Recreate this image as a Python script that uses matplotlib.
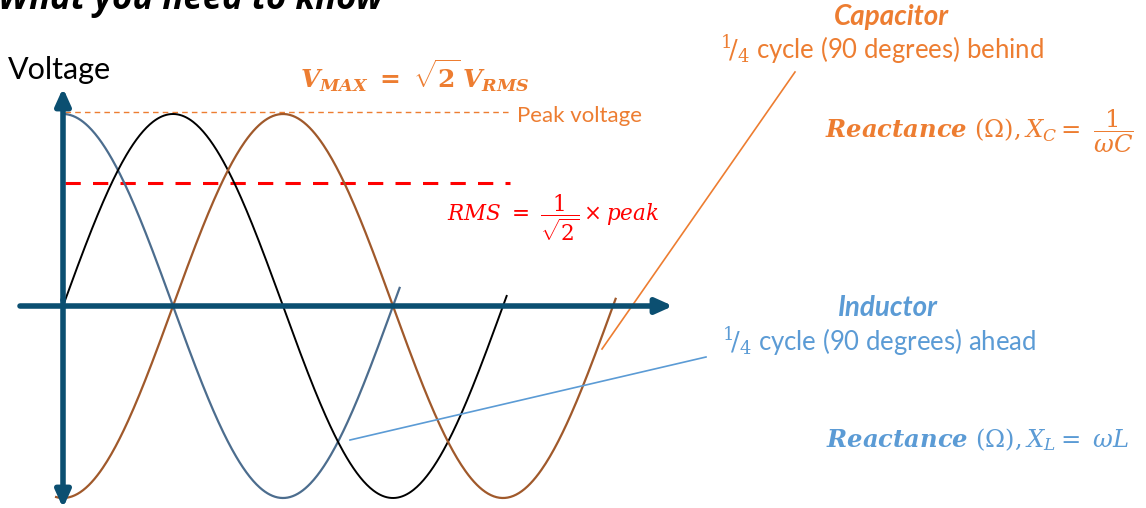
import numpy as np
import matplotlib.pyplot as plt

plt.rcParams['mathtext.fontset'] = 'custom'
plt.rcParams['mathtext.rm'] = 'DejaVu Serif'
plt.rcParams['mathtext.it'] = 'DejaVu Serif:italic'
plt.rcParams['mathtext.bf'] = 'DejaVu Serif:bold'
plt.rcParams['mathtext.bfit'] = 'DejaVu Serif:italic:bold'

# wave layout (pixel units of the slide)
origin_x = 63
baseline_y = 306
period = 440
amplitude = 192

# the three waves: phase in degrees, where each one starts and stops
wave_names = ['inductor', 'supply', 'capacitor']
wave_phase = [90, 0, -90]
wave_start = [63, 63, 55]
wave_end = [400, 507, 616]
wave_colors = ['#4C6D8E', 'black', '#A0592B']
wave_widths = [1.6, 1.4, 1.6]

peak_y = 112
rms_y = 183
dash_end = 510

orange = '#ED7D31'
blue = '#5B9BD5'
axis_col = '#0B4F71'

fig = plt.figure(figsize=(11.46, 5.08), dpi=100)
ax = fig.add_axes([0, 0, 1, 1])
ax.set_xlim(0, 1146)
ax.set_ylim(508, 0)
ax.axis('off')

# axes arrows
arrow = dict(arrowstyle='-|>,head_length=1.0,head_width=0.45', color=axis_col, lw=4,
             shrinkA=0, shrinkB=0)
ax.annotate('', xy=(673, baseline_y), xytext=(20, baseline_y), arrowprops=arrow)
ax.annotate('', xy=(origin_x, 88), xytext=(origin_x, 300), arrowprops=arrow)
ax.annotate('', xy=(origin_x, 508), xytext=(origin_x, 300), arrowprops=arrow)

# dashed peak and rms lines
ax.plot([65, dash_end], [peak_y, peak_y], color=orange, lw=1, dashes=(4, 3))
ax.plot([65, dash_end], [rms_y, rms_y], color='red', lw=2.2, dashes=(5, 4))

# waves
for ph, x0, x1, c, w in zip(wave_phase, wave_start, wave_end, wave_colors, wave_widths):
    x = np.linspace(x0, x1, 400)
    y = baseline_y - amplitude * np.sin(2 * np.pi * (x - origin_x) / period + np.radians(ph))
    ax.plot(x, y, color=c, lw=w, solid_capstyle='butt')

# leader lines
ax.plot([795, 602], [72, 349], color=orange, lw=1.2)
ax.plot([350, 706], [440, 357], color=blue, lw=1.2)

# text
ax.text(-2, 9, 'What you need to know', fontsize=25, fontweight='bold', fontstyle='italic',
        family='Open Sans', va='baseline', ha='left')
ax.text(8, 70, 'Voltage', fontsize=22, family='Lato', va='center', ha='left')
ax.text(300, 76, r'$\mathbfit{V_{MAX}}\ \mathbf{=}\ \mathbf{\sqrt{2}}\,\mathbfit{V_{RMS}}$',
        fontsize=18, color=orange, va='center', ha='left')
ax.text(517, 116, 'Peak voltage', fontsize=16, family='Lato', color=orange, va='center', ha='left')
ax.text(447, 218, r'$RMS\ =\ \dfrac{1}{\sqrt{2}}\times peak$', fontsize=15.5, color='red',
        va='center', ha='left')

ax.text(891, 17, 'Capacitor', fontsize=20, fontweight='bold', fontstyle='italic', family='Lato',
        color=orange, va='center', ha='center')
ax.text(720, 50, r'$^{1}\!/_{4}$ cycle (90 degrees) behind', fontsize=18.5, family='Lato',
        color=orange, va='center', ha='left')
ax.text(825, 131, r'$\mathbfit{Reactance}\ (\Omega), X_C=\ \dfrac{1}{\omega C}$', fontsize=17.5,
        color=orange, va='center', ha='left')

ax.text(888, 308, 'Inductor', fontsize=20, fontweight='bold', fontstyle='italic', family='Lato',
        color=blue, va='center', ha='center')
ax.text(722, 342, r'$^{1}\!/_{4}$ cycle (90 degrees) ahead', fontsize=18.5, family='Lato',
        color=blue, va='center', ha='left')
ax.text(826, 440, r'$\mathbfit{Reactance}\ (\Omega), X_L=\ \omega L$', fontsize=17.5,
        color=blue, va='center', ha='left')

plt.savefig('out.png', dpi=100)
plt.close()
